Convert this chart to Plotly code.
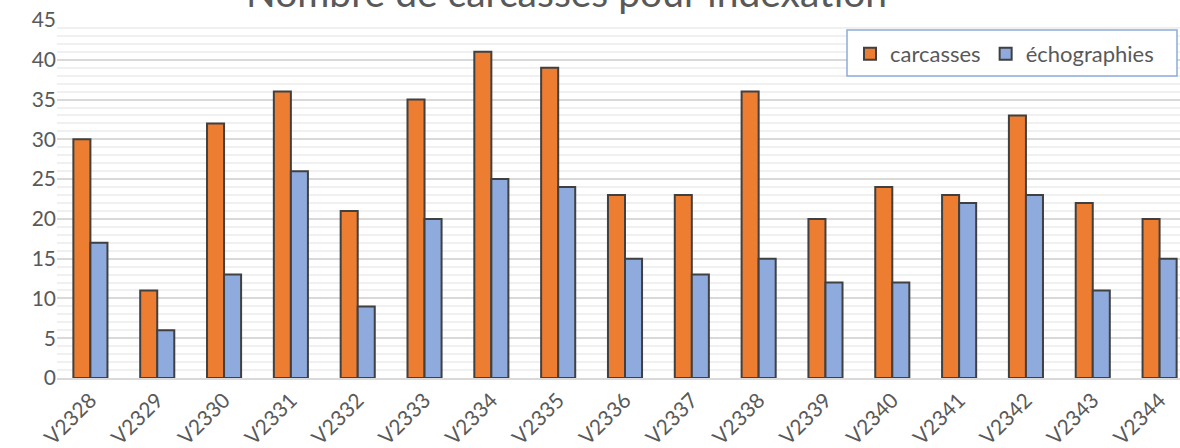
import plotly.graph_objects as go

categories = ["V2328", "V2329", "V2330", "V2331", "V2332", "V2333", "V2334", "V2335", "V2336",
              "V2337", "V2338", "V2339", "V2340", "V2341", "V2342", "V2343", "V2344"]
carcasses = [30, 11, 32, 36, 21, 35, 41, 39, 23, 23, 36, 20, 24, 23, 33, 22, 20]
echographies = [17, 6, 13, 26, 9, 20, 25, 24, 15, 13, 15, 12, 12, 22, 23, 11, 15]

font_fam = "Lato, 'Open Sans', sans-serif"
txt = "#595959"

W, H = 1194, 448
ML, MR, MT, MB = 57, 1, 20, 70
PW, PH = W - ML - MR, H - MT - MB


def px_x(p):
    return (p - ML) / PW


def px_y(p):
    return (H - MB - p) / PH


fig = go.Figure()
fig.add_bar(x=categories, y=carcasses, name="carcasses",
            marker=dict(color="#ED7D31", line=dict(color="#404040", width=2)))
fig.add_bar(x=categories, y=echographies, name="échographies",
            marker=dict(color="#8FAADC", line=dict(color="#404040", width=2)))

fig.update_layout(
    width=W, height=H,
    margin=dict(l=ML, r=MR, t=MT, b=MB, autoexpand=False),
    paper_bgcolor="white", plot_bgcolor="white",
    barmode="group", bargap=0.49, bargroupgap=0,
    font=dict(family=font_fam, color=txt, size=21),
    annotations=[dict(text="Nombre de carcasses pour indexation", x=px_x(566), xref="paper",
                      xanchor="center", y=1, yref="paper", yanchor="middle", yshift=28,
                      showarrow=False,
                      font=dict(size=39, color=txt, family=font_fam))],
    shapes=[dict(type="rect", xref="paper", yref="paper",
                 x0=px_x(847), x1=px_x(1177), y0=px_y(76), y1=px_y(30),
                 fillcolor="white", line=dict(color="#8FAADC", width=1.5), layer="above")],
    legend=dict(orientation="h", x=px_x(850), xanchor="left", y=px_y(54), yanchor="middle",
                bgcolor="rgba(0,0,0,0)", borderwidth=0,
                font=dict(size=22, color=txt), itemwidth=30,
                traceorder="normal"),
    showlegend=True,
)
fig.update_yaxes(range=[0, 45], dtick=5, showgrid=True, gridcolor="#d9d9d9", gridwidth=1.5,
                 zeroline=False, tickfont=dict(size=21, color=txt), ticklabelstandoff=0,
                 automargin=False,
                 minor=dict(dtick=1, showgrid=True, gridcolor="#f0f0f0", gridwidth=1.5))
fig.update_xaxes(tickangle=-45, showline=True, linecolor="#d9d9d9", linewidth=1.5,
                 automargin=False, tickfont=dict(size=21, color=txt))

fig.write_html("out.html", config={"displayModeBar": False},
               post_script="document.body.style.margin='0';document.body.style.overflow='hidden';"
                           "document.documentElement.style.overflow='hidden';")
